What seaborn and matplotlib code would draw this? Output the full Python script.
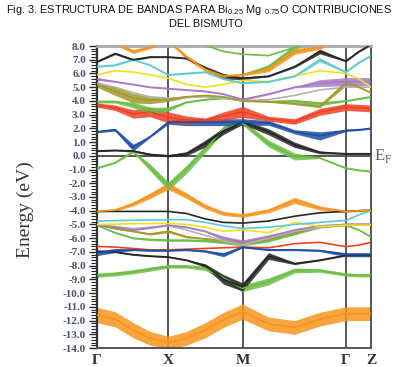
import numpy as np
import pandas as pd
import matplotlib
matplotlib.use('Agg')
import matplotlib.pyplot as plt
from matplotlib.ticker import MultipleLocator, FormatStrFormatter
import seaborn as sns

# k-path distance along Γ-X-M-Γ-Z
k_path = [0.0, 0.18, 0.36, 0.53, 0.71, 0.89, 1.08, 1.26, 1.45, 1.71, 1.97, 2.22, 2.48, 2.61, 2.73]
k_ticks = [0.0, 0.71, 1.45, 2.48, 2.73]
k_labels = ['Γ', 'X', 'M', 'Γ', 'Z']

# band energies (eV) read at each k_path point, and fat-band widths (eV)
orange_top = [8.6, 8.2, 7.6, 7.9, 8.4, 7.2, 6.3, 5.8, 5.9, 6.3, 7.6, 7.9, 8.6, 8.6, 8.6]
orange_top_w = [0, 0.2, 0.3, 0.2, 0.2, 0.3, 0.3, 0.2, 0.15, 0.35, 0.4, 0.3, 0, 0, 0]
black_top = [6.85, 7.45, 7.0, 7.2, 7.2, 7.1, 6.4, 5.8, 5.65, 5.8, 6.5, 7.6, 6.9, 7.6, 8.1]
black_top_w = [0.1, 0.15, 0.15, 0.1, 0.1, 0.1, 0.25, 0.4, 0.2, 0.1, 0.15, 0.35, 0.1, 0.1, 0.1]
green_high = [9.0, 9.0, 9.0, 9.0, 8.4, 8.3, 8.05, 7.6, 7.4, 7.3, 7.9, 8.5, 9.0, 9.0, 9.0]
green_high2 = [np.nan] * 8 + [5.9, 6.5, 7.9, 8.6, np.nan, np.nan, np.nan]
green_high2_w = [0] * 8 + [0, 0.3, 0.35, 0.3, 0, 0, 0]
cyan_top = [6.5, 6.6, 7.0, 6.6, 5.9, 6.0, 6.1, 5.6, 5.3, 5.4, 5.8, 7.0, 6.1, 6.8, 7.3]
cyan_top_w = [0.1] * 11 + [0.3, 0.1, 0.1, 0.1]
yellow_top = [5.9, 6.2, 6.1, 5.9, 5.65, 5.2, 5.0, 5.2, 5.5, 5.4, 5.8, 6.2, 6.0, 5.6, 5.0]
purple_top = [5.6, 5.4, 5.2, 5.0, 4.9, 4.8, 4.7, 4.5, 4.1, 4.5, 5.0, 5.3, 5.4, 5.4, 5.4]
purple_top_w = [0.2, 0.1, 0.1, 0.1, 0.1, 0.1, 0.1, 0.1, 0.15, 0.1, 0.1, 0.5, 0.6, 0.6, 0.6]
gray_top = [5.3, 5.0, 4.6, 4.3, 4.2, 4.25, 4.3, 4.2, 4.0, 4.1, 4.4, 4.8, 5.0, 5.0, 5.0]
gray_top_w = [0.15, 0.1, 0, 0, 0, 0, 0, 0, 0, 0, 0, 0, 0, 0, 0]
olive_top = [5.2, 4.7, 4.2, 4.05, 4.1, 4.3, 4.4, 4.3, 4.0, 3.95, 3.8, 3.6, 5.3, 5.0, 4.6]
olive_top_w = [0.4, 0.6, 0.7, 0.5, 0.3, 0.15, 0.1, 0.1, 0.1, 0.1, 0.15, 0.2, 0.4, 0.1, 0.1]
green_top = [3.95, 3.95, 3.7, 3.3, 3.4, 3.9, 4.1, 4.2, 4.05, 3.95, 4.0, 3.8, 4.0, 4.15, 4.3]
green_top_w = [0.2, 0.2, 0.4, 0.5, 0.3, 0.1, 0.1, 0.1, 0.1, 0.1, 0.2, 0.3, 0.1, 0.1, 0.1]
red_top = [3.7, 3.5, 3.05, 3.2, 2.8, 2.6, 2.6, 2.9, 3.2, 2.7, 2.5, 3.2, 3.55, 3.5, 3.45]
red_top_w = [0.3, 0.4, 0.6, 0.7, 0.8, 0.6, 0.3, 0.6, 0.8, 0.35, 0.4, 0.5, 0.5, 0.5, 0.5]
blue_top = [1.75, 1.9, 0.6, 1.4, 2.45, 2.45, 2.45, 2.45, 2.45, 2.4, 1.75, 1.45, 1.85, 1.9, 2.0]
blue_top_w = [0.15, 0.2, 0.5, 0.12, 0.3, 0.5, 0.5, 0.5, 0.5, 0.35, 0.3, 0.6, 0.15, 0.12, 0.12]
black_mid = [0.35, 0.4, 0.35, 0.1, 0.0, 0.15, 0.9, 1.8, 2.45, 1.75, 0.8, 0.25, 0.15, 0.15, 0.15]
black_mid_w = [0.1, 0.1, 0.15, 0.15, 0.15, 0.3, 0.5, 0.5, 0.3, 0.45, 0.4, 0.2, 0.1, 0.1, 0.1]
green_v = [-0.9, -0.5, 0.3, -0.85, -2.2, -1.0, 0.5, 1.95, 2.4, 0.9, -0.05, -0.15, -0.9, -1.05, -1.15]
green_v_w = [0.1, 0.1, 0.15, 0.5, 0.6, 0.6, 0.55, 0.45, 0.3, 0.5, 0.5, 0.1, 0.1, 0.1, 0.1]
orange_mid = [-4.05, -3.95, -3.5, -2.9, -2.2, -2.9, -3.7, -4.2, -4.35, -4.0, -3.25, -3.8, -4.05, -4.0, -3.95]
orange_mid_w = [0.1, 0.15, 0.3, 0.4, 0.5, 0.4, 0.35, 0.3, 0.25, 0.3, 0.45, 0.3, 0.15, 0.12, 0.1]
black_low1 = [-4.05, -4.05, -4.05, -4.05, -4.05, -4.2, -4.6, -4.85, -4.9, -4.75, -4.4, -4.15, -4.05, -4.0, -3.95]
cyan_low = [-4.75, -4.72, -4.7, -4.68, -4.65, -4.65, -4.85, -5.1, -5.3, -5.2, -5.0, -4.85, -4.7, -4.3, -4.0]
yellow_low = [-5.0, -4.98, -4.95, -4.93, -4.92, -5.0, -5.2, -5.5, -5.4, -5.6, -4.85, -5.15, -5.05, -5.05, -5.05]
purple_low = [-5.05, -5.2, -5.4, -5.25, -5.05, -5.2, -5.5, -6.0, -6.3, -5.9, -5.4, -5.1, -5.0, -5.0, -5.0]
purple_low_w = [0.1, 0.1, 0.1, 0.1, 0.1, 0.1, 0.12, 0.3, 0.35, 0.3, 0.12, 0.1, 0.1, 0.1, 0.1]
gray_low = [-5.0, -5.15, -5.3, -5.2, -5.1, -5.4, -5.8, -6.2, -6.5, -6.0, -5.5, -5.2, -5.0, -5.0, -5.0]
olive_low = [-5.0, -5.3, -5.5, -5.7, -5.5, -5.9, -6.05, -6.2, -6.4, -6.1, -5.6, -5.2, -5.0, -5.0, -5.0]
olive_low_w = [0.1, 0.1, 0.1, 0.15, 0.2, 0.15, 0.1, 0.1, 0.1, 0.1, 0.1, 0.1, 0.1, 0.1, 0.1]
green_low1 = [-5.05, -5.6, -6.0, -6.1, -6.15, -6.15, -6.2, -6.3, -6.45, -6.2, -5.7, -5.2, -5.05, -5.4, -5.9]
green_low1_w = [0.1, 0.1, 0.1, 0.15, 0.15, 0.15, 0.15, 0.2, 0.25, 0.15, 0.1, 0.1, 0.1, 0.1, 0.15]
red_low = [-6.6, -6.65, -6.75, -6.85, -6.85, -6.8, -6.75, -6.7, -6.65, -6.7, -6.4, -6.3, -6.62, -6.5, -6.3]
blue_low = [-7.1, -6.9, -6.85, -6.9, -6.9, -6.85, -6.95, -7.2, -6.65, -6.85, -6.85, -6.9, -7.2, -7.2, -7.2]
blue_low_w = [0.35, 0.3, 0.12, 0.12, 0.12, 0.12, 0.15, 0.3, 0.12, 0.12, 0.12, 0.15, 0.3, 0.3, 0.3]
black_low2 = [-6.95, -7.0, -7.2, -7.3, -7.37, -7.6, -8.0, -9.0, -9.55, -7.3, -7.85, -7.6, -7.25, -7.25, -7.25]
black_low2_w = [0.1, 0.1, 0.1, 0.1, 0.1, 0.1, 0.25, 0.7, 0.6, 0.5, 0.15, 0.1, 0.1, 0.1, 0.1]
green_low_v = [-8.7, -8.6, -8.45, -8.25, -8.05, -8.05, -8.2, -8.9, -9.65, -9.15, -8.35, -8.35, -8.65, -8.7, -8.7]
green_low_v_w = [0.3, 0.3, 0.3, 0.3, 0.25, 0.25, 0.3, 0.4, 0.5, 0.5, 0.35, 0.25, 0.25, 0.25, 0.25]
orange_low = [-11.6, -11.9, -12.7, -13.3, -13.6, -13.3, -12.7, -11.95, -11.35, -12.25, -12.5, -11.9, -11.5, -11.5, -11.5]
orange_low_w = [1.1, 1.1, 1.1, 1.0, 0.9, 1.0, 1.1, 1.1, 1.1, 1.0, 1.0, 1.0, 1.0, 1.0, 1.0]

ORANGE, BLACK, CYAN, YELLOW = '#f7941d', '#262626', '#5ec9d3', '#ede11c'
PURPLE, GRAY, OLIVE, GREEN = '#a67cc4', '#b3b3b3', '#a39a2c', '#6cbd45'
RED, BLUE = '#ee4124', '#1f4fa0'

# drawing order: (name, colour, energies, widths)
bands = [
    ('orange_low', ORANGE, orange_low, orange_low_w),
    ('green_low_v', GREEN, green_low_v, green_low_v_w),
    ('black_low2', BLACK, black_low2, black_low2_w),
    ('red_low', RED, red_low, None),
    ('blue_low', BLUE, blue_low, blue_low_w),
    ('green_low1', GREEN, green_low1, green_low1_w),
    ('olive_low', OLIVE, olive_low, olive_low_w),
    ('gray_low', GRAY, gray_low, None),
    ('purple_low', PURPLE, purple_low, purple_low_w),
    ('yellow_low', YELLOW, yellow_low, None),
    ('cyan_low', CYAN, cyan_low, None),
    ('black_low1', BLACK, black_low1, None),
    ('orange_mid', ORANGE, orange_mid, orange_mid_w),
    ('green_v', GREEN, green_v, green_v_w),
    ('black_mid', BLACK, black_mid, black_mid_w),
    ('blue_top', BLUE, blue_top, blue_top_w),
    ('red_top', RED, red_top, red_top_w),
    ('green_top', GREEN, green_top, green_top_w),
    ('gray_top', GRAY, gray_top, gray_top_w),
    ('olive_top', OLIVE, olive_top, olive_top_w),
    ('purple_top', PURPLE, purple_top, purple_top_w),
    ('yellow_top', YELLOW, yellow_top, None),
    ('cyan_top', CYAN, cyan_top, cyan_top_w),
    ('green_high', GREEN, green_high, None),
    ('green_high2', GREEN, green_high2, green_high2_w),
    ('black_top', BLACK, black_top, black_top_w),
    ('orange_top', ORANGE, orange_top, orange_top_w),
]

sns.set_style('ticks')
plt.rcParams['font.family'] = ['Liberation Serif', 'DejaVu Serif']
plt.rcParams['axes.unicode_minus'] = False

fig = plt.figure(figsize=(3.98, 3.67), dpi=100)
ax = fig.add_axes([97 / 398, 19 / 367, 274 / 398, 302 / 367])

for name, color, energies, widths in bands:
    df = pd.DataFrame({'k': k_path, 'energy': energies}).dropna()
    if widths is not None:
        w = np.array(widths, dtype=float)[df.index]
        e = df['energy'].values
        ax.fill_between(df['k'].values, e - w / 2, e + w / 2, color=color, alpha=0.85, lw=0, zorder=2)
    sns.lineplot(data=df, x='k', y='energy', color=color, lw=1.2, ax=ax,
                 estimator=None, sort=False, legend=False, zorder=3)

for kx in k_ticks[1:4]:
    ax.axvline(kx, color='#4a4a4a', lw=1.3, zorder=1)
ax.axhline(0, color='#3a3a3a', lw=1.2, zorder=1)

ax.set_xlim(k_ticks[0], k_ticks[-1])
ax.set_ylim(-14, 8)
ax.set_xticks(k_ticks)
ax.set_xticklabels(k_labels, fontsize=11, fontweight='bold', color='#333333')
ax.tick_params(axis='x', length=0, pad=4)
ax.yaxis.set_major_locator(MultipleLocator(1.0))
ax.yaxis.set_minor_locator(MultipleLocator(0.2))
ax.yaxis.set_major_formatter(FormatStrFormatter('%.1f'))
ax.tick_params(axis='y', which='major', direction='out', length=6, width=1.0,
               labelsize=8, labelcolor='#46506e', pad=2)
ax.tick_params(axis='y', which='minor', direction='out', length=4, width=0.8)
for lab in ax.get_yticklabels():
    lab.set_fontweight('bold')
ax.set_xlabel('')
ax.set_ylabel('')

ax.spines['left'].set_color('#333333')
ax.spines['left'].set_linewidth(1.6)
ax.spines['top'].set_color('#aaaaaa')
ax.spines['top'].set_linewidth(2)
ax.spines['right'].set_color('#555555')
ax.spines['right'].set_linewidth(1.4)
ax.spines['bottom'].set_color('#555555')
ax.spines['bottom'].set_linewidth(1.4)

ax.text(1.012, 0, r'E$_{\mathregular{F}}$', transform=ax.get_yaxis_transform(),
        ha='left', va='center', fontsize=12, color='#5a6478')

fig.text(0.063, 1 - 210 / 367, 'Energy (eV)', rotation=90, ha='center', va='center',
         fontsize=14, color='#333333')

# title in a sans face, shrunk to the reference width (~388 px)
title_font = 'Liberation Sans'
t1 = fig.text(0.5, 1 - 10 / 367,
              r'Fig. 3. ESTRUCTURA DE BANDAS PARA Bi$_{\mathregular{0.25}}$ Mg $_{\mathregular{0.75}}$O CONTRIBUCIONES',
              ha='center', va='center', fontsize=9, family=title_font, color='#111111')
fig.canvas.draw()
size = 9 * 386 / t1.get_window_extent().width
t1.set_fontsize(size)
fig.text(206 / 398, 1 - 24 / 367, 'DEL BISMUTO', ha='center', va='center',
         fontsize=size, family=title_font, color='#111111')

fig.savefig('out.png', dpi=100)
